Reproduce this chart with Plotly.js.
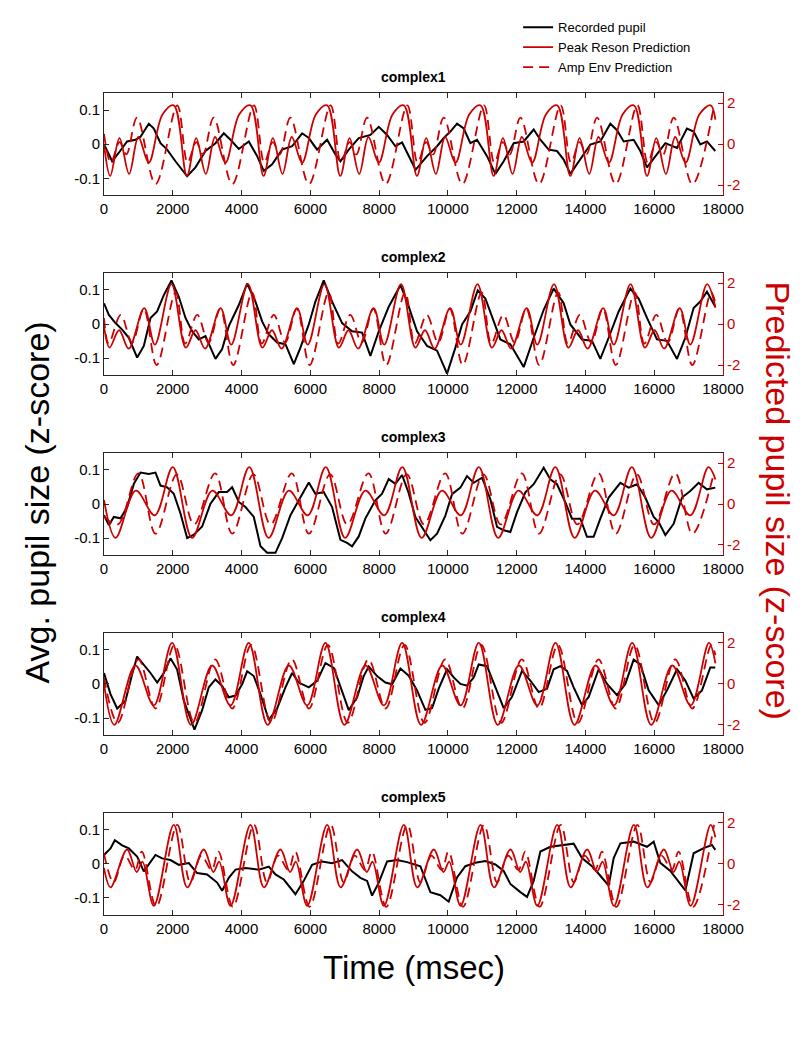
<!DOCTYPE html>
<html>
<head>
<meta charset="utf-8">
<script src="https://cdn.plot.ly/plotly-3.0.1.min.js"></script>
<style>
  html, body { margin: 0; padding: 0; background: #fff; }
  #chart { width: 800px; height: 1050px; }
</style>
</head>
<body>
<div id="chart"></div>
<script>
// ------------------------
// panel names
var panelNames = ["complex1", "complex2", "complex3", "complex4", "complex5"];
var xTicks = [0, 2000, 4000, 6000, 8000, 10000, 12000, 14000, 16000, 18000];

// ------------------------
// complex1 (time in msec, recorded = z-score, predictions on right axis)
var c1RecT = [0,238,431,673,916,1061,1303,1449,1643,1836,2078,2418,2660,2951,3241,3484,3677,3920,4210,4453,4646,4889,5180,5470,5761,5955,6197,6487,6730,6875,7117,7408,7747,7990,8232,8474,8668,9060,9394,9685,9879,10072,10266,10460,10654,10848,11138,11380,11623,11914,12204,12495,12689,12931,13173,13367,13561,13852,14142,14433,14724,14918,15111,15402,15596,15790,16080,16323,16662,16952,17146,17340,17533,17776];
var c1RecV = [0.0,-0.05,-0.025,0.008,0.013,0.022,0.06,0.046,0.003,-0.016,-0.05,-0.094,-0.068,-0.02,0.003,0.032,0.013,-0.014,0.008,-0.035,-0.078,-0.059,-0.016,-0.006,0.032,0.018,-0.016,0.013,-0.03,-0.05,-0.016,0.018,0.027,0.051,0.027,-0.006,0.005,-0.075,-0.035,-0.006,0.018,0.037,0.06,0.046,0.003,0.013,-0.035,-0.087,-0.05,0.003,0.008,0.043,0.013,-0.016,-0.02,-0.045,-0.087,-0.045,-0.001,0.008,0.06,0.041,0.008,0.013,-0.02,-0.068,-0.03,0.003,-0.011,0.046,0.037,-0.001,0.008,-0.02];
var c1PeakT = [0,180,450,730,1000,1300,1700,2030,2410,2680,2960,3230,3530,3930,4260,4640,4910,5190,5460,5760,6160,6490,6870,7140,7420,7690,7990,8390,8720,9100,9370,9650,9920,10220,10620,10950,11330,11600,11880,12150,12450,12850,13180,13560,13830,14110,14380,14680,15080,15410,15790,16060,16340,16610,16910,17310,17640,17780];
var c1PeakV = [0.0,-1.55,0.3,-1.45,0.35,-0.9,1.45,1.9,-1.55,0.3,-1.45,0.35,-0.9,1.45,1.9,-1.55,0.3,-1.45,0.35,-0.9,1.45,1.9,-1.55,0.3,-1.45,0.35,-0.9,1.45,1.9,-1.55,0.3,-1.45,0.35,-0.9,1.45,1.9,-1.55,0.3,-1.45,0.35,-0.9,1.45,1.9,-1.55,0.3,-1.45,0.35,-0.9,1.45,1.9,-1.55,0.3,-1.45,0.35,-0.9,1.45,1.9,1.2];
var c1AmpT = [0,200,450,650,960,1500,2130,2430,2680,2880,3190,3730,4360,4660,4910,5110,5420,5960,6590,6890,7140,7340,7650,8190,8820,9120,9370,9570,9880,10420,11050,11350,11600,11800,12110,12650,13280,13580,13830,14030,14340,14880,15510,15810,16060,16260,16570,17110,17740];
var c1AmpV = [0.5,-0.9,0.1,-0.5,1.3,-1.95,1.9,-0.9,0.1,-0.5,1.3,-1.95,1.9,-0.9,0.1,-0.5,1.3,-1.95,1.9,-0.9,0.1,-0.5,1.3,-1.95,1.9,-0.9,0.1,-0.5,1.3,-1.95,1.9,-0.9,0.1,-0.5,1.3,-1.95,1.9,-0.9,0.1,-0.5,1.3,-1.95,1.9,-0.9,0.1,-0.5,1.3,-1.95,1.9];

// ------------------------
// complex2
var c2RecT = [0,141,334,528,722,964,1158,1352,1545,1739,1962,2176,2370,2563,2757,2951,3241,3435,3629,3920,4162,4404,4598,4792,5034,5276,5519,5712,5955,6148,6390,6633,6924,7214,7505,7747,7990,8280,8620,8813,9103,9394,9685,9976,10218,10412,10654,10867,11090,11284,11526,11816,12204,12495,12786,13076,13367,13561,13900,14191,14433,14675,14966,15305,15547,15790,16080,16371,16662,16904,17146,17340,17534,17776];
var c2RecV = [0.061,0.027,0.003,-0.016,-0.04,-0.098,-0.064,0.018,0.037,0.085,0.128,0.08,0.018,-0.021,-0.045,-0.035,-0.102,-0.073,-0.006,0.056,0.119,0.066,0.008,-0.03,-0.054,-0.059,-0.117,-0.069,-0.001,0.066,0.128,0.066,0.003,-0.021,-0.025,-0.093,-0.021,0.051,0.114,0.066,-0.021,-0.064,-0.078,-0.145,-0.069,-0.001,0.037,0.099,0.075,0.023,-0.045,-0.059,-0.126,-0.04,0.042,0.104,0.061,-0.001,-0.045,-0.049,-0.102,-0.04,0.037,0.104,0.075,0.018,-0.045,-0.049,-0.102,-0.04,0.047,0.066,0.095,0.051];
var c2PeakT = [0,160,440,720,1170,1480,1962,2380,2660,2940,3390,3700,4187,4605,4885,5165,5615,5925,6412,6830,7110,7390,7840,8150,8637,9055,9335,9615,10065,10375,10862,11280,11560,11840,12290,12600,13087,13505,13785,14065,14515,14825,15312,15730,16010,16290,16740,17050,17537,17780];
var c2PeakV = [-0.1,-1.15,-0.3,-1.2,0.78,-1.0,1.95,-1.15,-0.3,-1.2,0.78,-1.0,1.95,-1.15,-0.3,-1.2,0.78,-1.0,1.95,-1.15,-0.3,-1.2,0.78,-1.0,1.95,-1.15,-0.3,-1.2,0.78,-1.0,1.95,-1.15,-0.3,-1.2,0.78,-1.0,1.95,-1.15,-0.3,-1.2,0.78,-1.0,1.95,-1.15,-0.3,-1.2,0.78,-1.0,1.95,0.8];
var c2AmpT = [0,137,487,817,1157,1532,2082,2362,2712,3042,3382,3757,4307,4587,4937,5267,5607,5982,6532,6812,7162,7492,7832,8207,8757,9037,9387,9717,10057,10432,10982,11262,11612,11942,12282,12657,13207,13487,13837,14167,14507,14882,15432,15712,16062,16392,16732,17107,17657,17780];
var c2AmpV = [0.3,-0.95,0.45,-0.9,0.75,-2.0,1.55,-0.95,0.45,-0.9,0.75,-2.0,1.55,-0.95,0.45,-0.9,0.75,-2.0,1.55,-0.95,0.45,-0.9,0.75,-2.0,1.55,-0.95,0.45,-0.9,0.75,-2.0,1.55,-0.95,0.45,-0.9,0.75,-2.0,1.55,-0.95,0.45,-0.9,0.75,-2.0,1.55,-0.95,0.45,-0.9,0.75,-2.0,1.55,1.0];

// ------------------------
// complex3
var c3RecT = [0,141,286,480,673,867,1061,1303,1497,1643,1836,2030,2224,2418,2612,2854,3096,3338,3580,3726,3920,4114,4356,4550,4743,4985,5180,5422,5664,5955,6148,6390,6633,6875,7069,7214,7408,7602,7892,8086,8280,8474,8668,8850,9055,9297,9491,9685,9927,10121,10363,10557,10751,10993,11235,11429,11623,11816,12010,12252,12495,12786,12980,13173,13415,13609,13852,14045,14239,14433,14675,15015,15257,15499,15741,15984,16129,16323,16565,16807,17049,17291,17533,17776];
var c3RecV = [-0.033,-0.062,-0.038,-0.042,-0.009,0.059,0.092,0.088,0.092,0.054,0.049,0.03,-0.028,-0.1,-0.09,-0.066,0.001,0.035,0.035,0.049,0.006,-0.009,-0.038,-0.124,-0.143,-0.143,-0.1,-0.033,0.011,0.063,0.03,0.035,-0.009,-0.105,-0.114,-0.124,-0.095,-0.042,0.011,0.03,0.073,0.059,0.085,0.035,-0.038,-0.077,-0.106,-0.087,-0.034,0.029,0.048,0.082,0.062,0.077,0.014,-0.067,-0.077,-0.082,-0.024,0.034,0.058,0.106,0.072,0.058,0.005,-0.043,-0.043,-0.096,-0.096,-0.043,0.019,0.062,0.048,0.058,0.019,-0.038,-0.053,-0.091,-0.058,0.019,0.038,0.062,0.043,0.048];
var c3PeakT = [0,336,926,1476,2001,2561,3151,3701,4226,4786,5376,5926,6451,7011,7601,8151,8676,9236,9826,10376,10901,11461,12051,12601,13126,13686,14276,14826,15351,15911,16501,17051,17576,17780];
var c3PeakV = [0.2,-1.65,0.65,-0.55,1.8,-1.65,0.65,-0.55,1.8,-1.65,0.65,-0.55,1.8,-1.65,0.65,-0.55,1.8,-1.65,0.65,-0.55,1.8,-1.65,0.65,-0.55,1.8,-1.65,0.65,-0.55,1.8,-1.65,0.65,-0.55,1.8,1.2];
var c3AmpT = [0,400,1000,1500,2120,2620,3230,3730,4345,4845,5460,5960,6575,7075,7690,8190,8805,9305,9920,10420,11035,11535,12150,12650,13265,13765,14380,14880,15495,15995,16610,17110,17725];
var c3AmpV = [-0.6,-1.0,1.5,-1.45,1.45,-1.0,1.5,-1.45,1.45,-1.0,1.5,-1.45,1.45,-1.0,1.5,-1.45,1.45,-1.0,1.5,-1.45,1.45,-1.0,1.5,-1.45,1.45,-1.0,1.5,-1.45,1.45,-1.0,1.5,-1.45,1.45];

// ------------------------
// complex4
var c4RecT = [0,189,383,625,819,964,1158,1352,1546,1739,1933,2127,2321,2515,2631,2854,3047,3241,3435,3629,3823,4017,4162,4356,4550,4792,5034,5276,5470,5664,5955,6197,6440,6682,6924,7117,7360,7553,7699,7941,8183,8377,8620,8861,9103,9346,9540,9733,9976,10169,10363,10557,10751,10896,11138,11380,11623,11865,12156,12398,12641,12882,13076,13270,13464,13658,13900,14094,14385,14627,14918,15160,15402,15596,15838,16129,16371,16662,16904,17146,17388,17630,17776];
var c4RecV = [0.032,-0.03,-0.072,-0.049,0.028,0.08,0.056,0.032,0.004,0.032,0.075,0.042,-0.049,-0.105,-0.134,-0.077,-0.01,0.013,-0.006,-0.039,-0.034,-0.001,0.037,0.023,-0.03,-0.105,-0.072,-0.01,0.032,0.004,-0.01,0.009,0.061,0.047,-0.02,-0.077,-0.039,0.023,0.051,0.023,0.004,-0.001,0.045,0.024,-0.019,-0.076,-0.071,-0.014,0.043,0.019,0.0,-0.005,0.019,0.057,0.052,-0.01,-0.071,-0.038,0.038,0.01,-0.024,-0.014,0.043,0.052,0.038,-0.01,-0.062,-0.038,0.043,0.0,-0.033,0.0,0.071,0.057,-0.019,-0.062,-0.019,0.043,0.01,-0.043,-0.019,0.048,0.048];
var c4PeakT = [0,300,915,1450,1980,2530,3145,3680,4210,4760,5375,5910,6440,6990,7605,8140,8670,9220,9835,10370,10900,11450,12065,12600,13130,13680,14295,14830,15360,15910,16525,17060,17590,17780];
var c4PeakV = [0.0,-2.0,0.9,-1.05,2.0,-2.0,0.9,-1.05,2.0,-2.0,0.9,-1.05,2.0,-2.0,0.9,-1.05,2.0,-2.0,0.9,-1.05,2.0,-2.0,0.9,-1.05,2.0,-2.0,0.9,-1.05,2.0,-2.0,0.9,-1.05,2.0,1.0];
var c4AmpT = [0,400,1000,1500,2050,2630,3230,3730,4280,4860,5460,5960,6510,7090,7690,8190,8740,9320,9920,10420,10970,11550,12150,12650,13200,13780,14380,14880,15430,16010,16610,17110,17660,17780];
var c4AmpV = [0.3,-1.9,1.2,-1.2,1.9,-1.9,1.2,-1.2,1.9,-1.9,1.2,-1.2,1.9,-1.9,1.2,-1.2,1.9,-1.9,1.2,-1.2,1.9,-1.9,1.2,-1.2,1.9,-1.9,1.2,-1.2,1.9,-1.9,1.2,-1.2,1.9,1.4];

// ------------------------
// complex5
var c5RecT = [0,189,315,528,722,964,1158,1352,1497,1691,1933,2176,2466,2708,2999,3290,3435,3629,3823,4114,4501,4792,4986,5228,5422,5567,5809,6052,6343,6633,6924,7214,7457,7651,7796,7990,8232,8523,8813,9200,9491,9782,10024,10266,10509,10799,11090,11380,11623,11816,12107,12301,12495,12689,12980,13367,13658,13900,14191,14433,14675,14821,15015,15402,15790,15984,16177,16468,16759,16904,17146,17437,17679,17776];
var c5RecV = [0.026,0.045,0.069,0.054,0.045,0.021,-0.022,0.007,0.026,0.016,0.011,-0.003,0.002,-0.027,-0.031,-0.055,-0.079,-0.041,-0.017,-0.012,-0.017,-0.008,-0.031,-0.046,-0.07,-0.089,-0.05,-0.003,0.007,0.002,0.011,-0.022,-0.041,-0.05,-0.093,-0.055,0.007,0.011,0.005,-0.007,-0.083,-0.092,-0.111,-0.04,-0.007,0.003,0.008,-0.002,-0.021,-0.059,-0.083,-0.097,-0.05,0.036,0.05,0.055,0.059,0.017,-0.007,-0.035,-0.064,0.017,0.06,0.065,0.05,0.065,0.003,-0.021,-0.059,-0.078,0.031,0.046,0.055,0.041];
var c5PeakT = [0,190,670,950,1120,1450,2030,2420,2900,3180,3350,3680,4260,4650,5130,5410,5580,5910,6490,6880,7360,7640,7810,8140,8720,9110,9590,9870,10040,10370,10950,11340,11820,12100,12270,12600,13180,13570,14050,14330,14500,14830,15410,15800,16280,16560,16730,17060,17640,17780];
var c5PeakV = [-0.2,-1.15,0.7,-0.4,0.1,-2.05,1.9,-1.15,0.7,-0.4,0.1,-2.05,1.9,-1.15,0.7,-0.4,0.1,-2.05,1.9,-1.15,0.7,-0.4,0.1,-2.05,1.9,-1.15,0.7,-0.4,0.1,-2.05,1.9,-1.15,0.7,-0.4,0.1,-2.05,1.9,-1.15,0.7,-0.4,0.1,-2.05,1.9,-1.15,0.7,-0.4,0.1,-2.05,1.9,1.3];
var c5AmpT = [0,280,600,900,1100,1520,2130,2510,2830,3130,3330,3750,4360,4740,5060,5360,5560,5980,6590,6970,7290,7590,7790,8210,8820,9200,9520,9820,10020,10440,11050,11430,11750,12050,12250,12670,13280,13660,13980,14280,14480,14900,15510,15890,16210,16510,16710,17130,17740];
var c5AmpV = [0.5,-0.9,0.4,-0.3,0.6,-2.1,1.9,-0.9,0.4,-0.3,0.6,-2.1,1.9,-0.9,0.4,-0.3,0.6,-2.1,1.9,-0.9,0.4,-0.3,0.6,-2.1,1.9,-0.9,0.4,-0.3,0.6,-2.1,1.9,-0.9,0.4,-0.3,0.6,-2.1,1.9,-0.9,0.4,-0.3,0.6,-2.1,1.9,-0.9,0.4,-0.3,0.6,-2.1,1.9];

// ------------------------
// group per panel
var panels = [
  {rt: c1RecT, rv: c1RecV, pt: c1PeakT, pv: c1PeakV, at: c1AmpT, av: c1AmpV},
  {rt: c2RecT, rv: c2RecV, pt: c2PeakT, pv: c2PeakV, at: c2AmpT, av: c2AmpV},
  {rt: c3RecT, rv: c3RecV, pt: c3PeakT, pv: c3PeakV, at: c3AmpT, av: c3AmpV},
  {rt: c4RecT, rv: c4RecV, pt: c4PeakT, pv: c4PeakV, at: c4AmpT, av: c4AmpV},
  {rt: c5RecT, rv: c5RecV, pt: c5PeakT, pv: c5PeakV, at: c5AmpT, av: c5AmpV}
];

var red = "#cc0000";
var axisCol = "#262626";
var font = "Helvetica Neue, Liberation Sans, Arial, sans-serif";

// pixel layout -> paper domains
var mTop = 88, mBot = 134, plotH = 1050 - mTop - mBot;
var panelTop = [88, 269, 450, 631, 812];
var panelH = 103;

var data = [];
var layout = {
  width: 800, height: 1050,
  margin: {l: 104, r: 77, t: mTop, b: mBot},
  paper_bgcolor: "#fff", plot_bgcolor: "#fff",
  font: {family: font, size: 15, color: axisCol},
  showlegend: true,
  legend: {x: 0.669, y: 1.098, xanchor: "left", yanchor: "top",
           bgcolor: "rgba(0,0,0,0)", font: {size: 13, color: "#000"}, tracegroupgap: 0},
  annotations: []
};

panels.forEach(function(p, i) {
  var n = i + 1;
  var xa = n === 1 ? "x" : "x" + n;
  var yl = 2 * n - 1, yr = 2 * n;
  var ylName = yl === 1 ? "y" : "y" + yl;
  var yrName = "y" + yr;
  var d1 = 1 - (panelTop[i] - mTop) / plotH;
  var d0 = 1 - (panelTop[i] + panelH - mTop) / plotH;

  data.push({x: p.rt, y: p.rv, xaxis: xa, yaxis: ylName, type: "scatter", mode: "lines",
    name: "Recorded pupil", showlegend: i === 0, legendgroup: "rec",
    line: {color: "#000", width: 2}});
  data.push({x: p.pt, y: p.pv, xaxis: xa, yaxis: yrName, type: "scatter", mode: "lines",
    name: "Peak Reson Prediction", showlegend: i === 0, legendgroup: "peak",
    line: {color: red, width: 1.8, shape: "spline", smoothing: 1}});
  data.push({x: p.at, y: p.av, xaxis: xa, yaxis: yrName, type: "scatter", mode: "lines",
    name: "Amp Env Prediction", showlegend: i === 0, legendgroup: "amp",
    line: {color: red, width: 1.8, dash: "10px,6px", shape: "spline", smoothing: 1}});

  layout["xaxis" + (n === 1 ? "" : n)] = {
    domain: [0, 1], anchor: ylName, range: [0, 18000],
    tickvals: xTicks, ticktext: xTicks.map(String),
    ticks: "inside", ticklen: 5, tickcolor: axisCol,
    showline: true, linecolor: axisCol, linewidth: 1, mirror: "ticks",
    showgrid: false, zeroline: false, tickfont: {size: 15, color: "#000"}
  };
  layout["yaxis" + yl] = {
    domain: [d0, d1], anchor: xa, range: [-0.15, 0.15],
    tickvals: [-0.1, 0, 0.1], ticktext: ["-0.1", "0", "0.1"],
    ticks: "inside", ticklen: 5, tickcolor: axisCol,
    showline: true, linecolor: axisCol, linewidth: 1,
    showgrid: false, zeroline: false, tickfont: {size: 15, color: "#000"}
  };
  layout["yaxis" + yr] = {
    domain: [d0, d1], anchor: xa, overlaying: ylName, side: "right", range: [-2.5, 2.5],
    tickvals: [-2, 0, 2], ticktext: ["-2", "0", "2"],
    ticks: "inside", ticklen: 5, tickcolor: red,
    showline: true, linecolor: red, linewidth: 1,
    showgrid: false, zeroline: false, tickfont: {size: 15, color: red}
  };
  layout.annotations.push({text: "<b>" + panelNames[i] + "</b>", xref: "paper", yref: "paper",
    x: 0.5, y: d1, xanchor: "center", yanchor: "bottom", yshift: 6, showarrow: false,
    font: {size: 14, color: "#000"}});
});

// axis titles
layout.annotations.push({text: "Avg. pupil size (z-score)", xref: "paper", yref: "paper",
  x: (37 - 104) / 619, y: 1 - (500 - mTop) / plotH, textangle: -90, showarrow: false,
  xanchor: "center", yanchor: "middle", font: {size: 34, color: "#000"}});
layout.annotations.push({text: "Predicted pupil size (z-score)", xref: "paper", yref: "paper",
  x: (778 - 104) / 619, y: 1 - (498 - mTop) / plotH, textangle: 90, showarrow: false,
  xanchor: "center", yanchor: "middle", font: {size: 34, color: red}});
layout.annotations.push({text: "Time (msec)", xref: "paper", yref: "paper",
  x: 0.5, y: 1 - (968 - mTop) / plotH, showarrow: false,
  xanchor: "center", yanchor: "middle", font: {size: 33, color: "#000"}});

Plotly.newPlot("chart", data, layout, {staticPlot: true});
</script>
</body>
</html>
